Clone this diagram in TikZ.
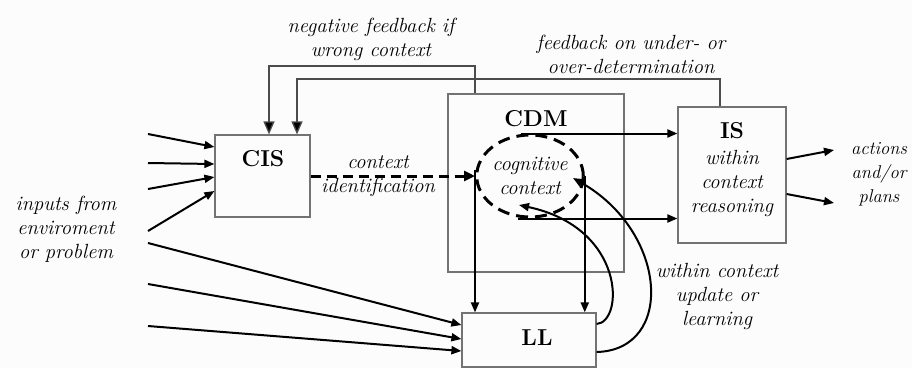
\documentclass[tikz,border=0pt]{standalone}
\usetikzlibrary{arrows.meta,shapes.geometric,calc}
\begin{document}
\begin{tikzpicture}[x=1pt,y=-1pt,
  box/.style={draw=black!55,line width=1.2pt,fill=none,inner sep=0pt},
  lbl/.style={font=\fontsize{23}{28}\selectfont\bfseries,anchor=base,inner sep=0pt},
  itl/.style={font=\fontsize{20.5}{24}\selectfont\itshape,align=center,inner sep=0pt},
  arr/.style={line width=2pt,-{Triangle[length=10pt,width=8pt]}},
  fb/.style={draw=black!70,line width=1.3pt,-{Triangle[length=13pt,width=11pt,fill=black]}},
  dasharr/.style={line width=3pt,dash pattern=on 10pt off 6pt,-{Triangle[length=11pt,width=10pt]}}]
\useasboundingbox (0,0) rectangle (912,368);
\fill[black!1] (0,0) rectangle (912,368);

% blocks
\node[box,minimum width=95pt,minimum height=82pt] (cis) at (262.5,176) {};
\node[box,minimum width=176pt,minimum height=178pt] (cdm) at (536,183) {};
\node[box,minimum width=108pt,minimum height=136pt] (is) at (732,175) {};
\node[box,minimum width=134pt,minimum height=54pt] (ll) at (529,340) {};

\node[lbl] (cisL) at (263,166.7) {CIS};
\node[lbl] (cdmL) at (536,126.7) {CDM};
\node[lbl] (isL) at (732,138.3) {IS};
\node[lbl] (llL) at (537,345) {LL};

% cognitive context
\node[ellipse,draw,line width=3pt,dash pattern=on 12pt off 7pt,
  minimum width=106pt,minimum height=82pt,inner sep=0pt,
  font=\fontsize{20.5}{24}\selectfont\itshape,align=center] (ctx) at (530,176)
  {cognitive\\context};

% texts
\node[itl] (isT) at (732,183) {within\\context\\reasoning};
\node[itl] (nfT) at (371,39) {negative feedback if\\wrong context};
\node[itl] (ofT) at (631,54) {feedback on under- or\\over-determination};
\node[itl] (ciT) at (378,176) {context\\identification};
\node[itl] (upT) at (717,296) {within context\\update or\\learning};
\node[itl] (inT) at (66,229) {inputs from\\enviroment\\or problem};
\node[itl,font=\fontsize{18.5}{24}\selectfont\itshape] (acT) at (879,174) {actions\\and/or\\plans};

% feedback loops into CIS
\coordinate (nfA) at (475,66);
\coordinate (nfB) at (269,66);
\draw[fb] (cdm.north -| nfA) -- (nfA) -- (nfB) -- (cis.north -| nfB);
\coordinate (ofA) at (720,79);
\coordinate (ofB) at (297,79);
\draw[fb] (is.north -| ofA) -- (ofA) -- (ofB) -- (cis.north -| ofB);

% context identification
\coordinate (vl) at (475,170);
\draw[dasharr] (cis.east) -- (cis.east -| vl);

% cognitive context to IS and LL
\draw[arr] ([xshift=-9pt]ctx.north) -- (ctx.north -| is.west);
\draw[arr] ([xshift=-12pt]ctx.south) -- (ctx.south -| is.west);
\draw[arr] (vl) -- (vl |- ll.north);
\draw[arr] (ctx.east) -- (ctx.east |- ll.north);

% learning loops back into the context
\coordinate (ctxIn1) at (519,205);
\coordinate (ctxIn2) at (573,178);
\draw[arr] ([yshift=16pt]ll.east) .. controls (624,322) and (626,228) .. (ctxIn1);
\draw[arr] ([yshift=-12pt]ll.east) .. controls (675,350) and (668,232) .. (ctxIn2);

% inputs
\coordinate (in1) at (148,134);
\coordinate (in2) at (148,163);
\coordinate (in3) at (148,189);
\coordinate (in4) at (148,231);
\coordinate (in5) at (148,243);
\coordinate (in6) at (148,284);
\coordinate (in7) at (148,326);
\draw[arr] (in1) -- ([yshift=29pt]cis.west);
\draw[arr] (in2) -- ([yshift=12pt]cis.west);
\draw[arr] (in3) -- ([yshift=-1pt]cis.west);
\draw[arr] (in4) -- ([yshift=-15pt]cis.west);
\draw[arr] (in5) -- ([yshift=15pt]ll.west);
\draw[arr] (in6) -- ([yshift=1pt]ll.west);
\draw[arr] (in7) -- ([yshift=-11pt]ll.west);

% outputs
\coordinate (out1) at (834,150);
\coordinate (out2) at (834,203);
\draw[arr] ([yshift=16pt]is.east) -- (out1);
\draw[arr] ([yshift=-19pt]is.east) -- (out2);
\end{tikzpicture}
\end{document}
